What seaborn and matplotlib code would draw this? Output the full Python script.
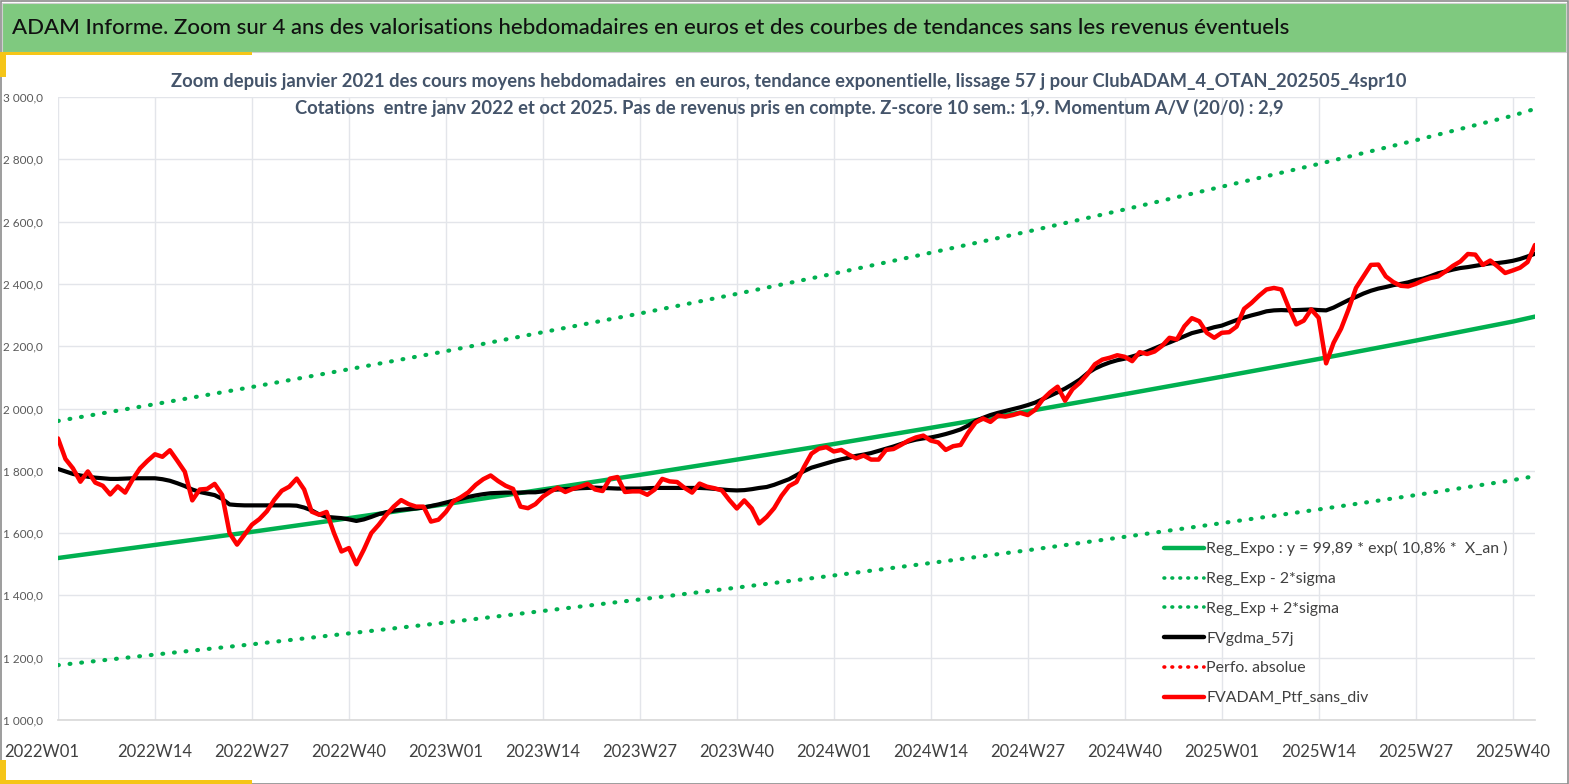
import numpy as np
import pandas as pd
import seaborn as sns
import matplotlib.pyplot as plt
import matplotlib.transforms as mtransforms
from matplotlib.lines import Line2D
from matplotlib.patches import Rectangle
from matplotlib.ticker import FuncFormatter, MultipleLocator

sns.set_theme(style="white")
plt.rcParams["font.family"] = ["Lato", "DejaVu Sans"]

# weekly values, 2022W01 .. 2025W43
ptf_sans_div = [
    1904, 1838, 1808, 1765, 1798, 1762, 1752, 1724, 1750, 1730,
    1772, 1808, 1832, 1853, 1845, 1866, 1832, 1797, 1705, 1740,
    1742, 1758, 1723, 1600, 1563, 1595, 1627, 1645, 1670, 1707,
    1736, 1749, 1775, 1740, 1669, 1659, 1668, 1600, 1541, 1552,
    1500, 1547, 1600, 1627, 1658, 1685, 1706, 1693, 1685, 1685,
    1637, 1643, 1668, 1702, 1715, 1731, 1755, 1773, 1785, 1767,
    1752, 1742, 1685, 1680, 1693, 1717, 1733, 1746, 1732, 1742,
    1749, 1758, 1740, 1735, 1775, 1780, 1732, 1734, 1734, 1723,
    1740, 1774, 1766, 1764, 1745, 1730, 1759, 1749, 1744, 1737,
    1706, 1679, 1705, 1679, 1631, 1652, 1680, 1720, 1751, 1764,
    1812, 1855, 1871, 1876, 1862, 1867, 1852, 1840, 1849, 1836,
    1836, 1867, 1870, 1883, 1897, 1907, 1913, 1897, 1891, 1867,
    1879, 1883, 1922, 1955, 1968, 1957, 1977, 1974, 1979, 1986,
    1979, 1996, 2029, 2052, 2070, 2025, 2062, 2083, 2110, 2142,
    2157, 2163, 2171, 2166, 2152, 2181, 2175, 2183, 2201, 2227,
    2222, 2264, 2290, 2280, 2243, 2227, 2243, 2245, 2263, 2320,
    2339, 2362, 2382, 2387, 2382, 2323, 2270, 2282, 2318, 2291,
    2145, 2211, 2256, 2318, 2387, 2424, 2461, 2462, 2424, 2406,
    2394, 2392, 2400, 2411, 2419, 2424, 2440, 2458, 2472, 2496,
    2494, 2461, 2475, 2456, 2435, 2443, 2452, 2470, 2525,
]

gdma_57j = [
    1806, 1798, 1790, 1785, 1781, 1778, 1776, 1774, 1774, 1775,
    1776, 1776, 1776, 1776, 1773, 1768, 1760, 1751, 1740, 1732,
    1727, 1722, 1710, 1692, 1690, 1689, 1689, 1689, 1689, 1689,
    1689, 1689, 1688, 1682, 1673, 1660, 1652, 1650, 1648, 1644,
    1639, 1644, 1652, 1661, 1667, 1672, 1675, 1677, 1679, 1682,
    1687, 1692, 1698, 1704, 1710, 1716, 1721, 1725, 1728, 1729,
    1730, 1730, 1730, 1731, 1731, 1734, 1738, 1740, 1741, 1742,
    1744, 1745, 1746, 1745, 1744, 1743, 1743, 1743, 1743, 1744,
    1745, 1745, 1745, 1745, 1745, 1745, 1745, 1744, 1742, 1740,
    1738, 1737, 1738, 1741, 1745, 1748, 1755, 1764, 1773, 1786,
    1799, 1810, 1817, 1824, 1831, 1837, 1842, 1848, 1852, 1857,
    1864, 1871, 1878, 1886, 1894, 1900, 1904, 1907, 1912, 1918,
    1925, 1933, 1945, 1960, 1970, 1979, 1986, 1992, 1998, 2004,
    2011, 2019, 2030, 2041, 2052, 2064, 2078, 2093, 2113, 2128,
    2139, 2148, 2155, 2160, 2167, 2174, 2183, 2193, 2203, 2212,
    2222, 2232, 2242, 2248, 2254, 2261, 2266, 2275, 2284, 2292,
    2299, 2305, 2312, 2315, 2316, 2315, 2316, 2317, 2318, 2316,
    2315, 2324, 2336, 2348, 2358, 2369, 2378, 2385, 2390, 2396,
    2400, 2405, 2412, 2417, 2425, 2434, 2440, 2446, 2451, 2454,
    2458, 2462, 2466, 2467, 2470, 2474, 2480, 2488, 2497,
]

# regression curves read at each labelled week (+ last week)
reg_weeks = [0, 13, 26, 39, 52, 65, 78, 91, 104, 117, 130, 143, 156, 169, 182, 195, 198]
reg_expo = [1520, 1562, 1604, 1648, 1693, 1740, 1787, 1836, 1886, 1938,
            1991, 2046, 2102, 2159, 2218, 2279, 2295]
reg_plus = [1960, 2014, 2069, 2126, 2184, 2245, 2305, 2368, 2433, 2500,
            2568, 2639, 2712, 2785, 2861, 2940, 2962]
reg_minus = [1176, 1210, 1243, 1278, 1313, 1350, 1387, 1425, 1464, 1504,
             1545, 1588, 1632, 1676, 1722, 1770, 1783]

tick_labels = ["2022W01", "2022W14", "2022W27", "2022W40",
               "2023W01", "2023W14", "2023W27", "2023W40",
               "2024W01", "2024W14", "2024W27", "2024W40",
               "2025W01", "2025W14", "2025W27", "2025W40"]

GREEN = "#00B050"
RED = "#FF0000"
TXT = "#404040"

weekly = pd.DataFrame({"week": np.arange(len(ptf_sans_div)),
                       "ptf": ptf_sans_div, "gdma": gdma_57j})
reg = pd.DataFrame({"week": reg_weeks, "expo": reg_expo,
                    "plus": reg_plus, "minus": reg_minus})

W, H = 1569, 784
fig = plt.figure(figsize=(W / 100, H / 100), dpi=100)

# frame, banner and yellow accents
fig.patches.append(Rectangle((0.5 / W, 0.5 / H), 1 - 1.5 / W, 1 - 1.5 / H,
                             transform=fig.transFigure, fill=False,
                             ec="#8c8c8c", lw=1.2))
fig.patches.append(Rectangle((2 / W, 1 - 52 / H), 1 - 5 / W, 49 / H,
                             transform=fig.transFigure, fc="#7FC97F", ec="#d0d0d0", lw=0.8))
fig.patches.append(Rectangle((0, 1 - 55 / H), 252 / W, 3 / H,
                             transform=fig.transFigure, fc="#F5C518", ec="none"))
fig.patches.append(Rectangle((0, 1 - 77 / H), 6 / W, 25 / H,
                             transform=fig.transFigure, fc="#F5C518", ec="none"))
fig.patches.append(Rectangle((0, 0), 252 / W, 4 / H,
                             transform=fig.transFigure, fc="#F5C518", ec="none"))
fig.patches.append(Rectangle((0, 0), 6 / W, 24 / H,
                             transform=fig.transFigure, fc="#F5C518", ec="none"))

fig.text(12 / W, 1 - 28 / H,
         "ADAM Informe. Zoom sur 4 ans des valorisations hebdomadaires en euros "
         "et des courbes de tendances sans les revenus éventuels",
         fontsize=16, fontweight="medium", color="#111111", va="center", ha="left")

ax = fig.add_axes([58 / W, 1 - 720 / H, (1535 - 58) / W, (720 - 97) / H])

sns.lineplot(data=reg, x="week", y="expo", ax=ax, color=GREEN, lw=3.2)
sns.lineplot(data=reg, x="week", y="minus", ax=ax, color=GREEN, lw=3.0,
             linestyle=(0, (0.2, 2.6)), dash_capstyle="round")
sns.lineplot(data=reg, x="week", y="plus", ax=ax, color=GREEN, lw=3.0,
             linestyle=(0, (0.2, 2.6)), dash_capstyle="round")
sns.lineplot(data=weekly, x="week", y="gdma", ax=ax, color="black", lw=3.0)
sns.lineplot(data=weekly, x="week", y="ptf", ax=ax, color=RED, lw=3.2)

ax.set_xlim(0, len(ptf_sans_div) - 1)
ax.set_ylim(1000, 3000)
ax.set_xlabel("")
ax.set_ylabel("")
ax.set_xticks(np.arange(0, 13 * len(tick_labels), 13))
ax.set_xticklabels(tick_labels)
ax.set_xticks(np.arange(6.5, 198, 13), minor=True)
ax.yaxis.set_major_locator(MultipleLocator(200))
ax.yaxis.set_major_formatter(FuncFormatter(
    lambda v, p: f"{v:,.1f}".replace(",", " ").replace(".", ",")))

ax.grid(True, which="major", color="#E3E5EA", lw=1.0)
ax.set_axisbelow(True)
for s in ["top", "right", "left"]:
    ax.spines[s].set_visible(False)
ax.spines["bottom"].set_color("#D9D9D9")
ax.tick_params(axis="x", which="major", length=0, pad=17, labelsize=12, labelcolor=TXT)
ax.tick_params(axis="x", which="minor", length=5, color="#D9D9D9", direction="out")
ax.tick_params(axis="y", length=0, pad=11, labelsize=8.5, labelcolor="#595959")

# first date label is pushed left, as in the original
first = ax.xaxis.get_major_ticks()[0].label1
first.set_transform(first.get_transform() +
                    mtransforms.ScaledTranslation(-0.16, 0, fig.dpi_scale_trans))

# subtitle sits over the top of the plot area
fig.text(789 / W, 1 - 82 / H,
         "Zoom depuis janvier 2021 des cours moyens hebdomadaires  en euros, tendance exponentielle, "
         "lissage 57 j pour ClubADAM_4_OTAN_202505_4spr10",
         fontsize=13.2, fontweight="bold", color="#44546A", ha="center", va="center")
fig.text(789 / W, 1 - 108 / H,
         "Cotations  entre janv 2022 et oct 2025. Pas de revenus pris en compte. "
         "Z-score 10 sem.: 1,9. Momentum A/V (20/0) : 2,9",
         fontsize=13.2, fontweight="bold", color="#44546A", ha="center", va="center")

dot = (0, (0.2, 2.0))
handles = [
    Line2D([], [], color=GREEN, lw=3.2),
    Line2D([], [], color=GREEN, lw=2.6, linestyle=dot, dash_capstyle="round"),
    Line2D([], [], color=GREEN, lw=2.6, linestyle=dot, dash_capstyle="round"),
    Line2D([], [], color="black", lw=3.2),
    Line2D([], [], color=RED, lw=2.6, linestyle=dot, dash_capstyle="round"),
    Line2D([], [], color=RED, lw=3.2),
]
labels = ["Reg_Expo : y = 99,89 * exp( 10,8% *  X_an )",
          "Reg_Exp - 2*sigma",
          "Reg_Exp + 2*sigma",
          "FVgdma_57j",
          "Perfo. absolue",
          "FVADAM_Ptf_sans_div"]
leg = ax.legend(handles, labels, loc="upper left",
                bbox_to_anchor=(1150 / W, 1 - 527 / H), bbox_transform=fig.transFigure,
                frameon=False, fontsize=11.4, labelcolor=TXT,
                handlelength=2.5, handletextpad=0.15, labelspacing=0.99)

fig.savefig("out.png", dpi=100)
